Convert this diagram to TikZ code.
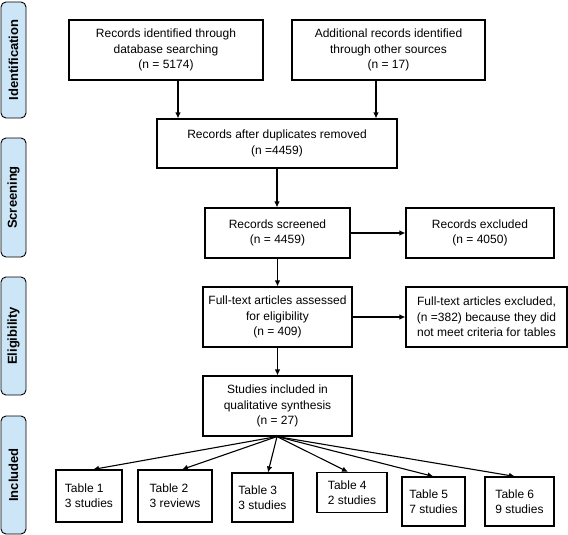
\documentclass[tikz,border=0pt]{standalone}
\usepackage{fontspec}
\setmainfont{Liberation Sans}
\usetikzlibrary{arrows.meta}
\definecolor{tabblue}{RGB}{204,230,247}
\begin{document}
\begin{tikzpicture}[x=1pt,y=-1pt,
  box/.style={draw,line width=1.1pt,inner sep=0pt,align=center,font=\fontsize{12}{15.5}\selectfont},
  tbox/.style={draw,line width=1.1pt,inner sep=0pt,align=left,font=\fontsize{12}{15}\selectfont},
  phase/.style={draw,line width=0.9pt,fill=tabblue,rounded corners=5pt,inner sep=0pt,minimum width=25pt,
     font=\fontsize{13}{15}\selectfont\bfseries},
  arr/.style={line width=1.1pt,-{Latex[length=6pt,width=5.5pt]}}]
\useasboundingbox (0,0) rectangle (568,535);
% phase tabs
\node[phase,minimum height=116pt] (pid) at (13.5,60) {};
\node[rotate=90,font=\fontsize{13}{15}\selectfont\bfseries] (pidt) at (pid.center) {Identification};
\node[phase,minimum height=119pt] (psc) at (13.5,197.5) {};
\node[rotate=90,font=\fontsize{13}{15}\selectfont\bfseries] (psct) at (psc.center) {Screening};
\node[phase,minimum height=118pt] (pel) at (13.5,336) {};
\node[rotate=90,font=\fontsize{13}{15}\selectfont\bfseries] (pelt) at (pel.center) {Eligibility};
\node[phase,minimum height=118pt] (pin) at (13.5,475) {};
\node[rotate=90,font=\fontsize{13}{15}\selectfont\bfseries] (pint) at (pin.center) {Included};
% boxes
\node[box,minimum width=194pt,minimum height=60pt] (b1) at (166,50) {Records identified through\\database searching\\(n = 5174)};
\node[box,minimum width=193pt,minimum height=60pt] (b2) at (388.5,50) {Additional records identified\\through other sources\\(n = 17)};
\node[box,minimum width=240pt,minimum height=49pt] (b3) at (277,143.5) {Records after duplicates removed\\(n =4459)};
\node[box,minimum width=145pt,minimum height=50pt] (scr) at (277.5,233) {Records screened\\(n = 4459)};
\node[box,minimum width=148pt,minimum height=50pt] (exc) at (480,233) {Records excluded\\(n = 4050)};
\node[box,minimum width=149pt,minimum height=60pt] (ft) at (277.5,317) {Full-text articles assessed\\for eligibility\\(n = 409)};
\node[box,minimum width=161pt,minimum height=60pt] (ftx) at (486.5,317) {Full-text articles excluded,\\(n =382) because they did\\not meet criteria for tables};
\node[box,minimum width=149pt,minimum height=60pt] (st) at (277.5,406) {Studies included in\\qualitative synthesis\\(n = 27)};
% tables
\node[tbox,minimum width=66pt,minimum height=52pt] (t1) at (89,496) {Table 1\\3 studies};
\node[tbox,minimum width=74pt,minimum height=52pt] (t2) at (175,496) {Table 2\\3 reviews};
\node[tbox,minimum width=61pt,minimum height=49pt] (t3) at (262.5,497.5) {Table 3\\3 studies};
\node[tbox,minimum width=70pt,minimum height=40pt] (t4) at (352,492.5) {Table 4\\2 studies};
\node[tbox,minimum width=63pt,minimum height=49pt] (t5) at (433.5,501.5) {Table 5\\7 studies};
\node[tbox,minimum width=69pt,minimum height=49pt] (t6) at (519.5,501.5) {Table 6\\9 studies};
% arrows
\draw[arr] ([xshift=12pt]b1.south) -- ([xshift=12pt]b1.south |- b3.north);
\draw[arr] ([xshift=-12.5pt]b2.south) -- ([xshift=-12.5pt]b2.south |- b3.north);
\draw[arr] (b3.south) -- (b3.south |- scr.north);
\draw[arr] (scr.east) -- (exc.west);
\draw[arr] (scr.south) -- (ft.north);
\draw[arr] (ft.east) -- (ft.east -| ftx.west);
\draw[arr] (ft.south) -- (st.north);
\coordinate (sb) at ([xshift=-0.5pt]st.south);
\draw[arr] (sb) -- ([xshift=4pt]t1.north);
\draw[arr] (sb) -- ([xshift=7pt]t2.north);
\draw[arr] (sb) -- ([xshift=5.5pt]t3.north);
\draw[arr] (sb) -- ([xshift=-4pt]t4.north);
\draw[arr] (sb) -- (t5.north);
\draw[arr] (sb) -- ([xshift=-4.5pt]t6.north);
\end{tikzpicture}
\end{document}
